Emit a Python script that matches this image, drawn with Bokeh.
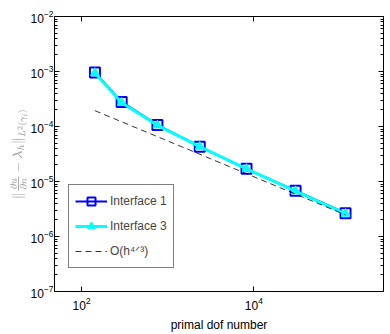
from bokeh.plotting import figure
from bokeh.models import (Range1d, FixedTicker, LogAxis, Legend, LegendItem, CustomJSTickFormatter)
from bokeh.embed import file_html
from bokeh.resources import INLINE

# ---- data ----
dofs = [143, 292, 760, 2355, 8220, 30500, 116000]
interface1 = [9.6e-4, 2.8e-4, 1.07e-4, 4.3e-5, 1.7e-5, 6.8e-6, 2.65e-6]
interface3 = [9.4e-4, 2.7e-4, 1.05e-4, 4.3e-5, 1.7e-5, 6.7e-6, 2.6e-6]
ref_dofs = [143, 116000]
ref_err = [1.94e-4, 2.47e-6]
x_ticks = [1e2, 1e4]
y_ticks = [1e-7, 1e-6, 1e-5, 1e-4, 1e-3, 1e-2]

FONT = "Liberation Sans"

p = figure(width=390, height=334, x_axis_type="log", y_axis_type="log",
           x_range=Range1d(48.5, 320000), y_range=Range1d(1e-7, 1e-2),
           output_backend="svg", toolbar_location=None,
           min_border_top=16, min_border_right=7, min_border_left=54, min_border_bottom=0)
p.outline_line_color = None
p.grid.visible = False
p.background_fill_color = "white"

y_minor = [k * d for d in y_ticks[:-1] for k in range(2, 10)]

def style_axis(ax, labels=True):
    ax.axis_line_color = "black"
    ax.axis_line_width = 1
    ax.major_tick_in = 5
    ax.major_tick_out = 0
    ax.minor_tick_in = 3
    ax.minor_tick_out = 0
    ax.major_tick_line_color = "black"
    ax.minor_tick_line_color = "black"
    ax.major_label_text_font = FONT
    ax.major_label_text_font_size = "12px" if labels else "1px"
    ax.major_label_text_color = "black"
    ax.major_label_standoff = 3 if labels else 0

xa = p.xaxis[0]
ya = p.yaxis[0]
xa.ticker = FixedTicker(ticks=x_ticks, minor_ticks=[])
ya.ticker = FixedTicker(ticks=y_ticks, minor_ticks=y_minor)
style_axis(xa)
style_axis(ya)
ya.major_label_standoff = 1
xa.major_label_standoff = 5
xa.axis_label = "primal dof number"
xa.axis_label_text_font = FONT
xa.axis_label_text_font_size = "12px"
xa.axis_label_text_font_style = "normal"
xa.axis_label_standoff = 5
xa.axis_label_text_color = "black"

ya.axis_label = r"$$\|\tfrac{\partial u}{\partial n} - \lambda_h\|_{L^2(\gamma_i)}$$"
ya.axis_label_text_font_size = "11px"
ya.axis_label_text_color = "#9a9a9a"
ya.axis_label_standoff = 0

blank = CustomJSTickFormatter(code="return ' ';")
ta = LogAxis(ticker=FixedTicker(ticks=x_ticks, minor_ticks=[]), formatter=blank)
style_axis(ta, labels=False)
p.add_layout(ta, "above")
ra = LogAxis(ticker=FixedTicker(ticks=y_ticks, minor_ticks=y_minor), formatter=blank)
style_axis(ra, labels=False)
p.add_layout(ra, "right")

# ---- glyphs ----
l1 = p.line(dofs, interface1, line_color="#0000ff", line_width=2)
m1 = p.scatter(dofs, interface1, marker="square", size=10, line_color="#0000ff",
               line_width=2, fill_color=None)
l3 = p.line(dofs, interface3, line_color="#00ffff", line_width=3)
m3 = p.scatter(dofs, interface3, marker="triangle", size=9, line_color="#00ffff",
               line_width=1, fill_color="#00ffff")
lr = p.line(ref_dofs, ref_err, line_color="black", line_width=0.8, line_dash="6 4")

legend = Legend(items=[
    LegendItem(label="Interface 1", renderers=[l1, m1]),
    LegendItem(label="Interface 3", renderers=[l3, m3]),
    LegendItem(label="O(h\u2074\u141f\u00b3)", renderers=[lr]),
], location=(14, 23))
legend.label_text_font = FONT
legend.label_text_font_size = "12px"
legend.label_standoff = 3
legend.glyph_width = 32
legend.glyph_height = 20
legend.spacing = 5
legend.padding = 6
legend.margin = 0
legend.border_line_color = "black"
legend.border_line_width = 1
legend.background_fill_alpha = 1
p.add_layout(legend, "center")

open("out.html", "w").write(file_html(p, INLINE))
